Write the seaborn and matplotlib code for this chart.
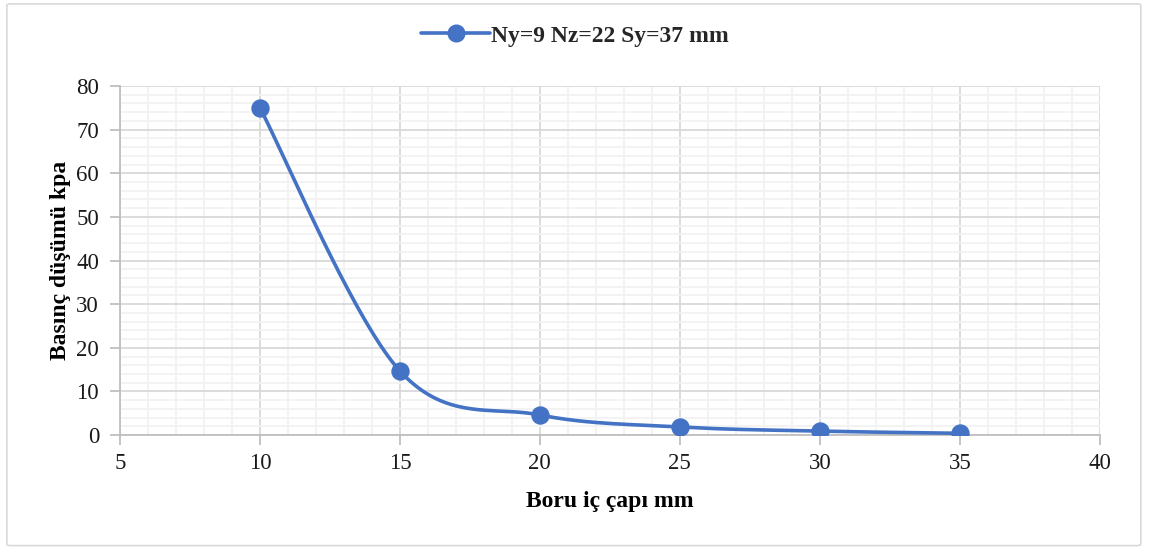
import numpy as np
import pandas as pd
import matplotlib
matplotlib.use("Agg")
import matplotlib.pyplot as plt
import seaborn as sns
from matplotlib.ticker import MultipleLocator
from matplotlib.patches import FancyBboxPatch
from matplotlib.lines import Line2D

# Data
diameters = [10, 15, 20, 25, 30, 35]
pressure_drop = [75.0, 14.7, 4.6, 1.85, 0.9, 0.4]
series_label = "Ny=9 Nz=22 Sy=37 mm"
x_label = "Boru iç çapı mm"
y_label = "Basınç düşümü kpa"

sns.set_theme(style="white")
plt.rcParams['font.family'] = ['Liberation Serif', 'DejaVu Serif']

color = "#4472C4"
xlim = (5, 40)
ylim = (0, 80)

fig = plt.figure(figsize=(11.5, 5.5), dpi=100)
ax = fig.add_axes([0.1043, 0.209, 0.852, 0.6346])
ax.set_xlim(*xlim)
ax.set_ylim(*ylim)

# Excel-like smoothed curve (Catmull-Rom / Bezier) computed in screen space
W = 0.852 * 1150
H = 0.6346 * 550
px = (np.array(diameters) - xlim[0]) / (xlim[1] - xlim[0]) * W
py = (np.array(pressure_drop) - ylim[0]) / (ylim[1] - ylim[0]) * H
P = np.column_stack([px, py])
n = len(P)
curve = []
t = np.linspace(0, 1, 40)
for i in range(n - 1):
    p0 = P[i - 1] if i > 0 else P[i]
    p1 = P[i]
    p2 = P[i + 1]
    p3 = P[i + 2] if i + 2 < n else P[i + 1]
    c1 = p1 + (p2 - p0) / 6.0
    c2 = p2 - (p3 - p1) / 6.0
    seg = ((1 - t)[:, None] ** 3 * p1 + 3 * ((1 - t) ** 2 * t)[:, None] * c1
           + 3 * ((1 - t) * t ** 2)[:, None] * c2 + (t ** 3)[:, None] * p2)
    curve.append(seg if i == 0 else seg[1:])
curve = np.vstack(curve)
cx = curve[:, 0] / W * (xlim[1] - xlim[0]) + xlim[0]
cy = curve[:, 1] / H * (ylim[1] - ylim[0]) + ylim[0]
smooth = pd.DataFrame({"x": cx, "y": cy})
pts = pd.DataFrame({"x": diameters, "y": pressure_drop})

sns.lineplot(data=smooth, x="x", y="y", sort=False, color=color, lw=2.6, ax=ax, zorder=3)
sns.scatterplot(data=pts, x="x", y="y", color=color, s=150, edgecolor=color, ax=ax, zorder=4)

# Gridlines
ax.xaxis.set_major_locator(MultipleLocator(5))
ax.xaxis.set_minor_locator(MultipleLocator(1))
ax.yaxis.set_major_locator(MultipleLocator(10))
ax.yaxis.set_minor_locator(MultipleLocator(2))
ax.grid(which="major", color="#D9D9D9", lw=1.3)
ax.grid(which="minor", color="#F2F2F2", lw=1.3)
ax.set_axisbelow(True)

for s in ["top", "right"]:
    ax.spines[s].set_visible(False)
for s in ["left", "bottom"]:
    ax.spines[s].set_color("#BFBFBF")
    ax.spines[s].set_linewidth(1.3)
ax.tick_params(which="major", direction="out", length=7, width=1.3, color="#BFBFBF",
               labelsize=16.5, labelcolor="#1a1a1a", left=True, bottom=True, pad=6)
ax.tick_params(axis="y", pad=8)
ax.tick_params(which="minor", length=0)

ax.set_xlabel(x_label, fontsize=17, fontweight="bold", color="black", labelpad=12)
ax.set_ylabel(y_label, fontsize=17, fontweight="bold", color="black", labelpad=4)

# Legend
handle = Line2D([0], [0], color=color, lw=2.6, marker="o", markersize=12)
fig.legend([handle], [series_label], loc="center", bbox_to_anchor=(0.5, 0.935),
           frameon=False, prop={"family": "Liberation Serif", "weight": "bold", "size": 17},
           handlelength=2.9, handletextpad=0.05)

# Outer border
border = FancyBboxPatch((0.006, 0.008), 0.986, 0.985, boxstyle="round,pad=0,rounding_size=0.003",
                        transform=fig.transFigure, fill=False, edgecolor="#D9D9D9", lw=1.2)
fig.patches.append(border)

fig.savefig("out.png", dpi=100)
